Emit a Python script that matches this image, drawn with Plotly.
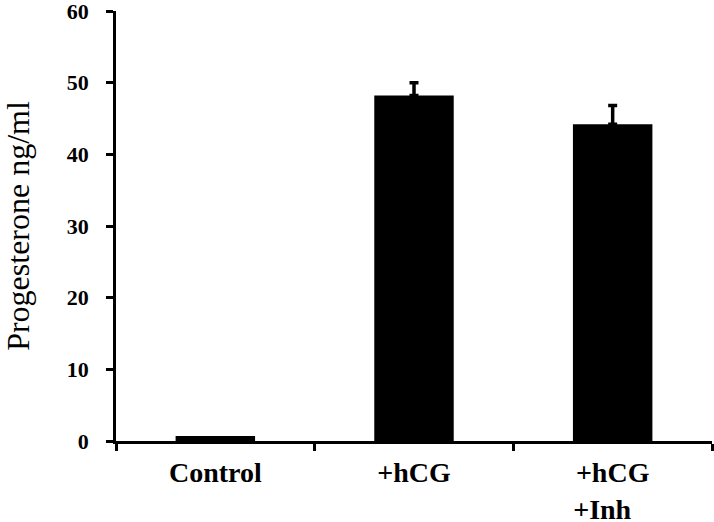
import plotly.graph_objects as go

# values (ng/ml)
categories = ["Control", "+hCG", "+hCG<br>+Inh&nbsp;&nbsp;&nbsp;"]
progesterone = [0.7, 48.2, 44.2]
# only the two treated groups show an (upward) error bar
error_categories = categories[1:]
error_means = progesterone[1:]
error_up = [1.8, 2.6]
y_ticks = [0, 10, 20, 30, 40, 50, 60]

fig = go.Figure()
fig.add_trace(
    go.Bar(
        x=categories,
        y=progesterone,
        marker={"color": "black", "line": {"width": 0}},
        showlegend=False,
    )
)
fig.add_trace(
    go.Scatter(
        x=error_categories,
        y=error_means,
        mode="markers",
        marker={"size": 0.1, "color": "black", "opacity": 0},
        error_y={
            "type": "data",
            "array": error_up,
            "arrayminus": [0] * len(error_up),
            "symmetric": False,
            "color": "black",
            "thickness": 3.5,
            "width": 4.5,
        },
        showlegend=False,
        hoverinfo="skip",
    )
)

fig.update_layout(
    width=714,
    height=522,
    margin={"l": 116, "r": 2, "t": 11, "b": 81},
    paper_bgcolor="white",
    plot_bgcolor="white",
    bargap=0.6,
    font={"family": "Liberation Serif", "color": "black"},
)
fig.update_xaxes(
    type="category",
    tickson="boundaries",
    ticks="outside",
    ticklen=7,
    tickwidth=2.5,
    tickcolor="black",
    showline=True,
    linewidth=2.5,
    linecolor="black",
    showgrid=False,
    automargin=False,
    ticklabeloverflow="allow",
    tickfont={"family": "Liberation Serif", "size": 28, "color": "black", "weight": "bold"},
    ticklabelstandoff=5,
)
fig.update_yaxes(
    range=[0, 60],
    tickvals=y_ticks,
    ticks="outside",
    ticklen=7,
    tickwidth=2.5,
    tickcolor="black",
    showline=True,
    linewidth=2.5,
    linecolor="black",
    showgrid=False,
    zeroline=False,
    automargin=False,
    ticklabeloverflow="allow",
    tickfont={"family": "Liberation Serif", "size": 22, "color": "black", "weight": "bold"},
    ticklabelstandoff=13,
    title={"text": "Progesterone ng/ml", "font": {"family": "Liberation Serif", "size": 32, "color": "black"}, "standoff": 47},
)

# the page body has a default margin; remove it so the figure sits at the corner
fig.write_html(
    "out.html",
    config={"displayModeBar": False},
    post_script="document.body.style.margin='0';",
)
